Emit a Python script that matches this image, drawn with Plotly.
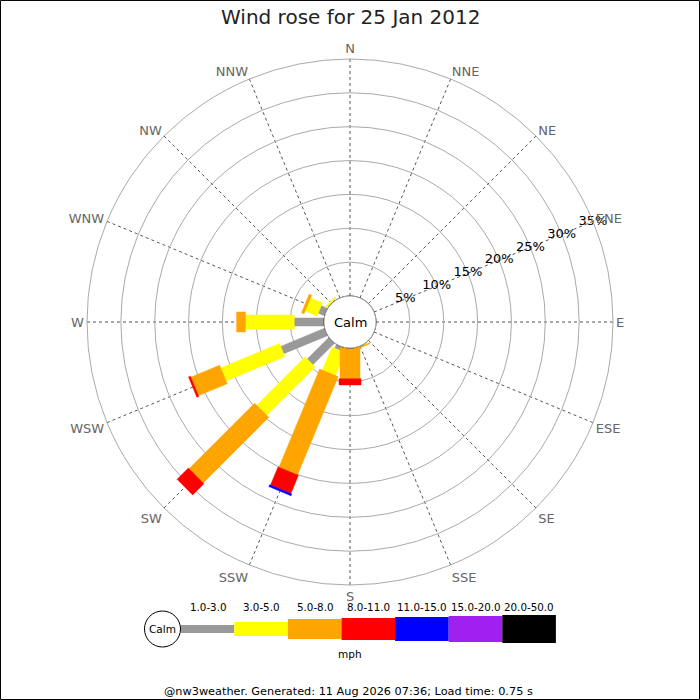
import math
import plotly.graph_objects as go

# ---------------- data ----------------
directions = ["N", "NNE", "NE", "ENE", "E", "ESE", "SE", "SSE",
              "S", "SSW", "SW", "WSW", "W", "WNW", "NW", "NNW"]
dir_angles = [0, 22.5, 45, 67.5, 90, 112.5, 135, 157.5,
              180, 202.5, 225, 247.5, 270, 292.5, 315, 337.5]

speed_classes = ["1.0-3.0", "3.0-5.0", "5.0-8.0", "8.0-11.0",
                 "11.0-15.0", "15.0-20.0", "20.0-50.0"]

# percentage of time per direction for each speed class (mph)
spd_1_3 = [0, 0, 0, 0, 0, 0, 0, 0.05, 0, 0.6, 4.5, 7.0, 4.4, 1.0, 0.1, 0]
spd_3_5 = [0, 0, 0, 0, 0, 0, 0, 0.05, 0, 3.7, 10.1, 9.4, 7.2, 1.9, 0.25, 0]
spd_5_8 = [0, 0, 0, 0, 0, 0, 0, 0.15, 4.55, 15.7, 13.7, 4.6, 1.3, 0.4, 0, 0]
spd_8_11 = [0, 0, 0, 0, 0, 0, 0, 0, 0.9, 2.9, 2.35, 0.3, 0, 0, 0, 0]
spd_11_15 = [0, 0, 0, 0, 0, 0, 0, 0, 0, 0.3, 0, 0, 0, 0, 0, 0]
spd_15_20 = [0] * 16
spd_20_50 = [0] * 16
series = [spd_1_3, spd_3_5, spd_5_8, spd_8_11, spd_11_15, spd_15_20, spd_20_50]

radial_ticks = [5, 10, 15, 20, 25, 30, 35]
radial_labels = ["5%", "10%", "15%", "20%", "25%", "30%", "35%"]
radial_label_angle = 67.5

title_text = "Wind rose for 25 Jan 2012"
unit_text = "mph"
footer_text = "@nw3weather. Generated: 11 Aug 2026 07:36; Load time: 0.75 s"

# ---------------- style ----------------
colors = ["#999999", "#ffff00", "#ffa500", "#ff0000", "#0000ff", "#a020f0", "#000000"]
bar_widths_px = [8, 14, 20, 22, 24, 26, 28]

W, H = 700, 700
CX, CY = 350, 322          # centre of rose (px from top-left)
R_PX = 263                 # outer radius px
HOLE_PX = 26               # calm circle radius px
RMAX = 35
PPP = (R_PX - HOLE_PX) / RMAX   # px per percent


def px_x(x):
    return x / W


def px_y(y):
    return 1 - y / H


def rect_polar(theta, a, b, half_w):
    A = HOLE_PX + a * PPP
    B = HOLE_PX + b * PPP
    rs, ts = [], []
    for al, pe in [(A, -half_w), (A, half_w), (B, half_w), (B, -half_w), (A, -half_w)]:
        rp = math.hypot(al, pe)
        rs.append((rp - HOLE_PX) / PPP)
        ts.append(theta + math.degrees(math.atan2(pe, al)))
    return rs, ts


fig = go.Figure()

cum = [0.0] * 16
for ci, vals in enumerate(series):
    rr, tt = [], []
    for di, v in enumerate(vals):
        if v > 0:
            r, t = rect_polar(dir_angles[di], cum[di], cum[di] + v, bar_widths_px[ci] / 2)
            rr += r + [None]
            tt += t + [None]
        cum[di] += v
    if rr:
        fig.add_trace(go.Scatterpolar(
            r=rr, theta=tt, mode="lines", fill="toself",
            fillcolor=colors[ci], line=dict(color=colors[ci], width=0.5),
            hoverinfo="skip", showlegend=False, name=speed_classes[ci]))

# calm circle
circ_t = [i * 2 for i in range(181)]
fig.add_trace(go.Scatterpolar(r=[0] * len(circ_t), theta=circ_t, mode="lines",
                              line=dict(color="black", width=1),
                              hoverinfo="skip", showlegend=False))

# radial labels along the ENE spoke
fig.add_trace(go.Scatterpolar(r=radial_ticks, theta=[radial_label_angle] * len(radial_ticks),
                              mode="text", text=radial_labels,
                              textfont=dict(size=13, color="black", family="DejaVu Sans"),
                              textposition="middle center",
                              hoverinfo="skip", showlegend=False, cliponaxis=False))

fig.update_layout(
    width=W, height=H,
    margin=dict(l=0, r=0, t=0, b=0),
    paper_bgcolor="white",
    font=dict(family="DejaVu Sans", color="black"),
    showlegend=False,
    polar=dict(
        domain=dict(x=[px_x(CX - R_PX), px_x(CX + R_PX)],
                    y=[px_y(CY + R_PX), px_y(CY - R_PX)]),
        bgcolor="white",
        hole=HOLE_PX / R_PX,
        angularaxis=dict(
            rotation=90, direction="clockwise",
            tickmode="array", tickvals=dir_angles, ticktext=directions,
            tickfont=dict(size=13, color="#666666", family="DejaVu Sans"),
            ticks="", showline=True, linecolor="#aaaaaa", linewidth=1,
            showgrid=True, gridcolor="#555555", gridwidth=1, griddash="dot",
        ),
        radialaxis=dict(
            range=[0, RMAX], tickmode="array", tickvals=radial_ticks,
            showticklabels=False, angle=22.5,
            showline=False, ticks="", showgrid=True,
            gridcolor="#aaaaaa", gridwidth=1,
        ),
    ),
)

annotations = [
    dict(text=title_text, x=0.5, y=px_y(17), xref="paper", yref="paper",
         showarrow=False, font=dict(size=20, color="#222222"), xanchor="center", yanchor="middle"),
    dict(text="Calm", x=px_x(CX), y=px_y(CY), xref="paper", yref="paper",
         showarrow=False, font=dict(size=13, color="black"), xanchor="center", yanchor="middle"),
    dict(text=unit_text, x=px_x(350), y=px_y(654), xref="paper", yref="paper",
         showarrow=False, font=dict(size=10.5, color="black"), xanchor="center", yanchor="middle"),
    dict(text=footer_text, x=px_x(348), y=px_y(691), xref="paper", yref="paper",
         showarrow=False, font=dict(size=11.3, color="black"), xanchor="center", yanchor="middle"),
    dict(text="Calm", x=px_x(162.5), y=px_y(629), xref="paper", yref="paper",
         showarrow=False, font=dict(size=10.5, color="black"), xanchor="center", yanchor="middle"),
]

shapes = [
    dict(type="rect", xref="paper", yref="paper", x0=0.0007, y0=0.0007, x1=0.9993, y1=0.9993,
         line=dict(color="black", width=1)),
    dict(type="circle", xref="paper", yref="paper",
         x0=px_x(144.5), x1=px_x(180.5), y0=px_y(647), y1=px_y(611),
         line=dict(color="black", width=1), fillcolor="white"),
]

seg_w = 53.6
x_start = 180.7
leg_cy = 629
for i, lab in enumerate(speed_classes):
    x0 = x_start + i * seg_w
    x1 = x0 + seg_w
    hh = bar_widths_px[i] / 2
    shapes.append(dict(type="rect", xref="paper", yref="paper",
                       x0=px_x(x0), x1=px_x(x1), y0=px_y(leg_cy + hh), y1=px_y(leg_cy - hh),
                       line=dict(width=0), fillcolor=colors[i], layer="below"))
    annotations.append(dict(text=lab, x=px_x((x0 + x1) / 2), y=px_y(607),
                            xref="paper", yref="paper", showarrow=False,
                            font=dict(size=10.3, color="black"),
                            xanchor="center", yanchor="middle"))

fig.update_layout(annotations=annotations, shapes=shapes)

fig.write_html("out.html", config={"displayModeBar": False},
               post_script="document.body.style.margin='0px';")
